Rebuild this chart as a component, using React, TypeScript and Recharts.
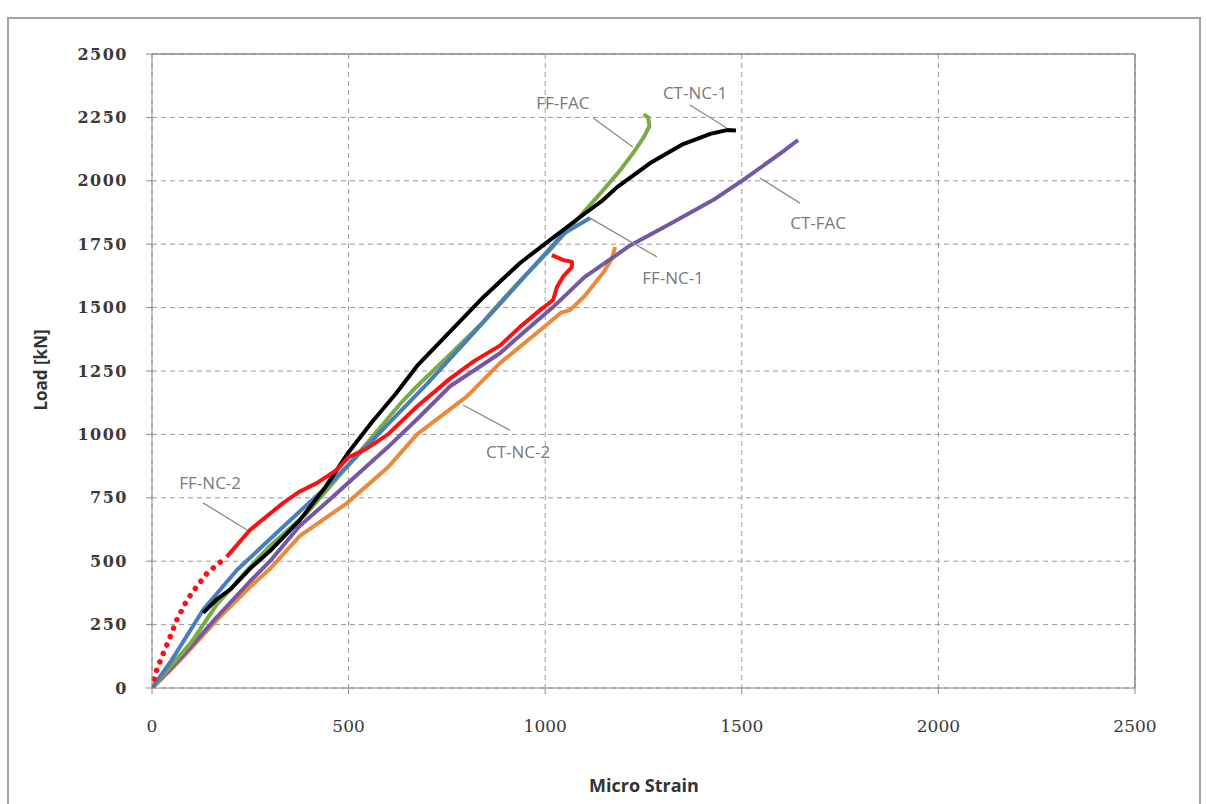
import { LineChart, Line, XAxis, YAxis, CartesianGrid, ReferenceLine, ReferenceDot } from 'recharts';

// axis ticks
const strainTicks = [0, 500, 1000, 1500, 2000, 2500];
const loadTicks = [0, 250, 500, 750, 1000, 1250, 1500, 1750, 2000, 2250, 2500];

// CT-NC-1 (black)
const ctNc1Strain = [130, 165, 200, 249, 300, 376, 440, 500, 560, 620, 674, 758, 842, 936, 1012, 1100, 1147, 1183, 1267, 1351, 1420, 1462, 1485];
const ctNc1Load = [296, 350, 390, 470, 540, 662, 790, 930, 1050, 1160, 1270, 1405, 1540, 1676, 1766, 1870, 1924, 1975, 2070, 2145, 2185, 2200, 2198];

// FF-FAC (green)
const ffFacStrain = [0, 50, 100, 165, 249, 300, 394, 500, 560, 631, 674, 758, 840, 885, 936, 1012, 1106, 1140, 1190, 1224, 1250, 1265, 1262, 1250];
const ffFacLoad = [0, 90, 180, 330, 477, 560, 690, 880, 990, 1120, 1190, 1315, 1440, 1520, 1605, 1727, 1890, 1950, 2040, 2110, 2170, 2215, 2250, 2262];

// FF-NC-1 (blue)
const ffNc1Strain = [0, 50, 130, 216, 333, 435, 500, 631, 700, 800, 900, 987, 1045, 1114];
const ffNc1Load = [0, 110, 308, 465, 635, 781, 880, 1090, 1200, 1370, 1540, 1690, 1790, 1853];

// FF-NC-2 (red), dotted first part then solid
const ffNc2StartStrain = [0, 12, 29, 46, 63, 89, 113, 140, 190];
const ffNc2StartLoad = [0, 71, 138, 201, 268, 347, 398, 453, 517];
const ffNc2Strain = [190, 249, 333, 376, 419, 470, 500, 547, 600, 674, 758, 820, 885, 936, 987, 1020, 1030, 1045, 1068, 1068, 1045, 1017];
const ffNc2Load = [517, 623, 729, 775, 808, 860, 910, 945, 1000, 1110, 1220, 1290, 1350, 1424, 1490, 1530, 1581, 1621, 1660, 1680, 1688, 1707];

// CT-FAC (purple)
const ctFacStrain = [0, 50, 100, 165, 249, 300, 376, 450, 500, 600, 674, 758, 885, 936, 1020, 1100, 1216, 1317, 1427, 1503, 1600, 1643];
const ctFacLoad = [0, 80, 165, 280, 420, 500, 640, 740, 810, 950, 1060, 1190, 1320, 1390, 1502, 1620, 1745, 1830, 1924, 2003, 2110, 2161];

// CT-NC-2 (orange)
const ctNc2Strain = [0, 40, 79, 165, 249, 300, 376, 496, 600, 674, 801, 885, 936, 987, 1040, 1063, 1100, 1147, 1170, 1178];
const ctNc2Load = [0, 60, 122, 268, 398, 470, 600, 729, 870, 1000, 1150, 1281, 1346, 1411, 1480, 1490, 1545, 1636, 1695, 1739];

// callout labels: text position and leader line ends (strain, load)
const calloutNames = ['FF-FAC', 'CT-NC-1', 'CT-FAC', 'FF-NC-1', 'CT-NC-2', 'FF-NC-2'];
const calloutTextX = [1045, 1381, 1694, 1325, 931, 148];
const calloutTextY = [2307, 2346, 1834, 1617, 931, 808];
const leaderFromX = [1122, 1368, 1648, 1284, 910, 130];
const leaderFromY = [2248, 2299, 1912, 1700, 1017, 730];
const leaderToX = [1223, 1462, 1546, 1114, 791, 242];
const leaderToY = [2133, 2208, 2011, 1853, 1116, 623];

const toPoints = (xs: number[], ys: number[]) => xs.map((x, i) => ({ x, y: ys[i] }));

const series = [
  { name: 'CT-NC-2', data: toPoints(ctNc2Strain, ctNc2Load), color: '#ec8a3c' },
  { name: 'CT-FAC', data: toPoints(ctFacStrain, ctFacLoad), color: '#7458a6' },
  { name: 'FF-FAC', data: toPoints(ffFacStrain, ffFacLoad), color: '#79aa45' },
  { name: 'FF-NC-1', data: toPoints(ffNc1Strain, ffNc1Load), color: '#4a7ebb' },
  { name: 'CT-NC-1', data: toPoints(ctNc1Strain, ctNc1Load), color: '#000000' },
  { name: 'FF-NC-2', data: toPoints(ffNc2Strain, ffNc2Load), color: '#ff1010' },
];

const axisGray = '#8c8c8c';
const tickFont = { fontFamily: '"DejaVu Serif", serif', fontSize: 16, fill: '#3a3a3a' };

export default function App() {
  return (
    <div style={{ position: 'absolute', left: 0, top: 0, width: 1207, height: 804, background: '#fff', overflow: 'hidden' }}>
      <div
        style={{
          position: 'absolute',
          left: 7,
          top: 17,
          width: 1194,
          height: 800,
          border: '2px solid #a2a2a2',
          boxSizing: 'border-box',
        }}
      />
      <LineChart
        width={1207}
        height={804}
        margin={{ top: 54, right: 72, bottom: 56, left: 72 }}
        style={{ position: 'absolute', left: 0, top: 0 }}
      >
        <CartesianGrid stroke="#9a9a9a" strokeDasharray="5 4" />
        <XAxis
          type="number"
          dataKey="x"
          domain={[0, 2500]}
          ticks={strainTicks}
          allowDataOverflow
          height={60}
          stroke={axisGray}
          tickSize={6}
          tickMargin={26}
          tick={{ ...tickFont, fontSize: 17 }}
        />
        <YAxis
          type="number"
          dataKey="y"
          domain={[0, 2500]}
          ticks={loadTicks}
          allowDataOverflow
          width={80}
          stroke={axisGray}
          tickSize={6}
          tickMargin={18}
          tick={{ ...tickFont, fontWeight: 700, letterSpacing: 1.5 }}
        />
        <ReferenceLine y={2500} stroke={axisGray} strokeWidth={1.5} />
        <ReferenceLine x={2500} stroke={axisGray} strokeWidth={1.5} />
        {series.map((s) => (
          <Line
            key={s.name}
            name={s.name}
            data={s.data}
            dataKey="y"
            type="linear"
            stroke={s.color}
            strokeWidth={4}
            strokeLinejoin="round"
            dot={false}
            isAnimationActive={false}
          />
        ))}
        <Line
          name="FF-NC-2 start"
          data={toPoints(ffNc2StartStrain, ffNc2StartLoad)}
          dataKey="y"
          type="linear"
          stroke="#ff1010"
          strokeWidth={5.5}
          strokeDasharray="0.1 9"
          strokeLinecap="round"
          dot={false}
          isAnimationActive={false}
        />
        {calloutNames.map((name, i) => (
          <ReferenceLine
            key={`leader-${name}`}
            segment={[
              { x: leaderFromX[i], y: leaderFromY[i] },
              { x: leaderToX[i], y: leaderToY[i] },
            ]}
            stroke="#8a8a8a"
            strokeWidth={1.3}
          />
        ))}
        {calloutNames.map((name, i) => (
          <ReferenceDot
            key={`label-${name}`}
            x={calloutTextX[i]}
            y={calloutTextY[i]}
            r={0}
            stroke="none"
            fill="none"
            label={{
              value: name,
              position: 'center',
              fill: '#7a7a7a',
              fontSize: 17,
              fontFamily: '"Open Sans", sans-serif',
            }}
          />
        ))}
      </LineChart>
      <div
        style={{
          position: 'absolute',
          left: 40,
          top: 370,
          transform: 'translate(-50%, -50%) rotate(-90deg)',
          whiteSpace: 'nowrap',
          fontFamily: '"Open Sans", sans-serif',
          fontWeight: 700,
          fontSize: 17,
          color: '#333',
        }}
      >
        Load [kN]
      </div>
      <div
        style={{
          position: 'absolute',
          left: 644,
          top: 785,
          transform: 'translate(-50%, -50%)',
          whiteSpace: 'nowrap',
          fontFamily: '"Open Sans", sans-serif',
          fontWeight: 700,
          fontSize: 18,
          color: '#333',
        }}
      >
        Micro Strain
      </div>
    </div>
  );
}
